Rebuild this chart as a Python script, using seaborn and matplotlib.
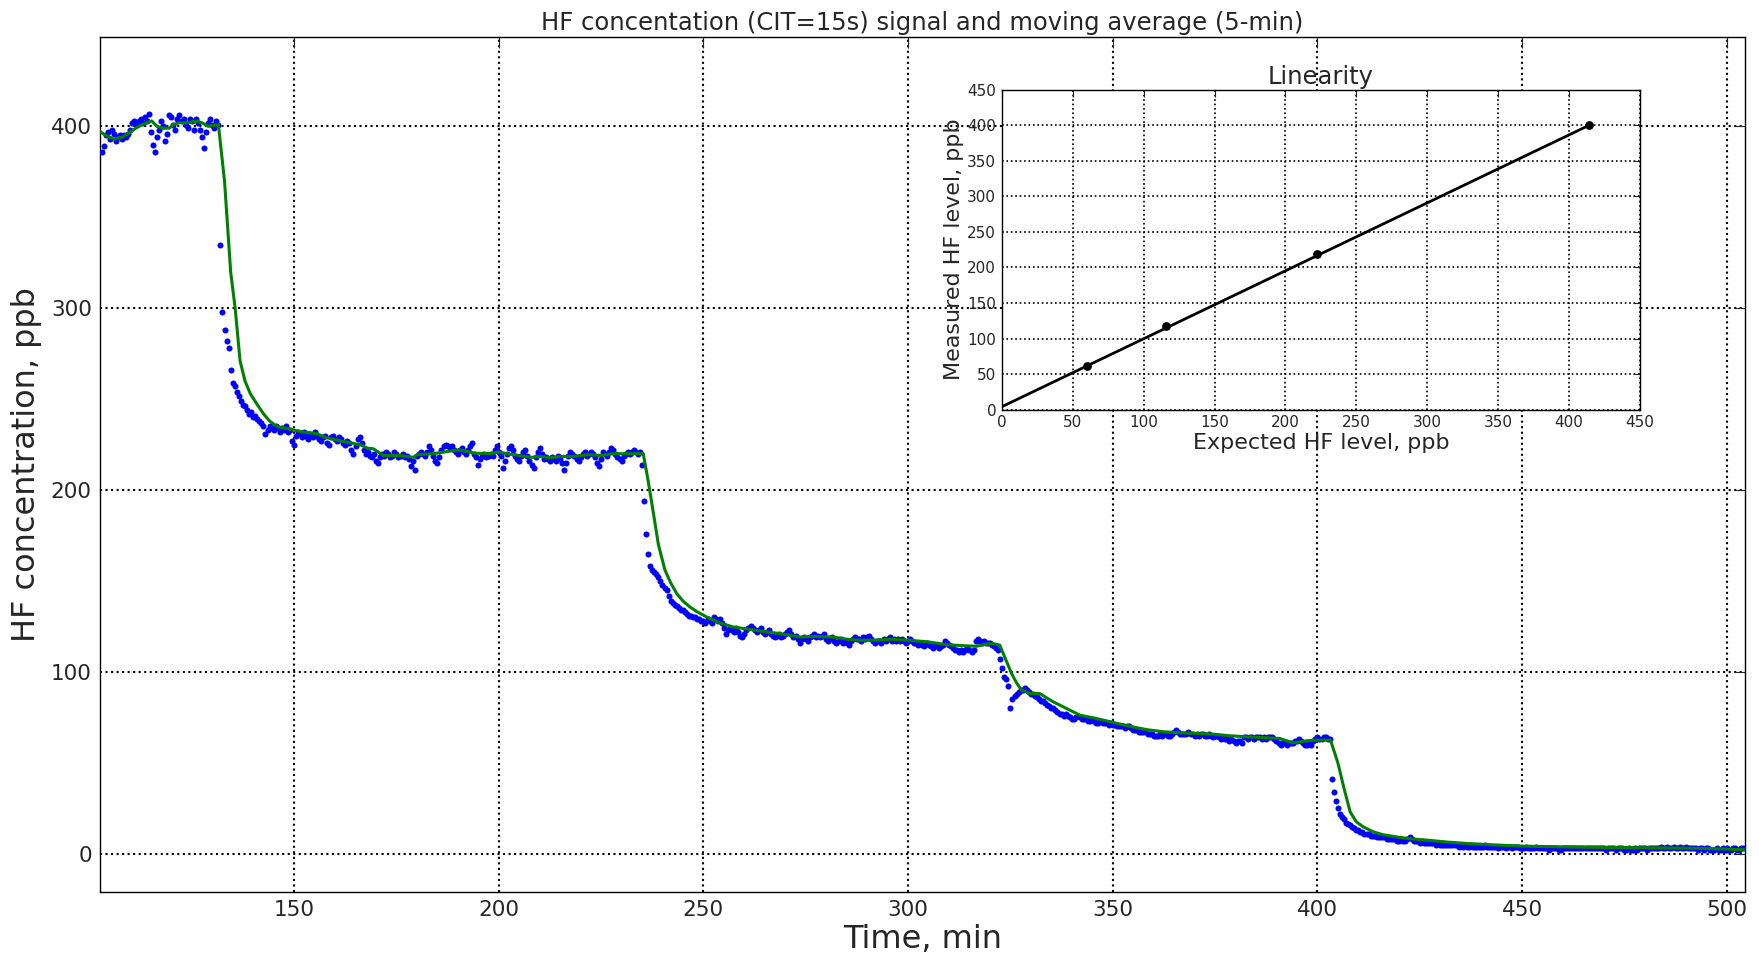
# -*- coding:utf-8 -*-
# HF concentration: raw signal (dots) + 5-min moving average, with linearity inset
import numpy as np
import seaborn as sns
import matplotlib
matplotlib.use('Agg')
import matplotlib.pyplot as plt

# raw signal, one value every 0.5 min starting at t = 103 min
t_start = 103.0
t_step = 0.5
hf_signal = [
    386, 389, 395, 397, 393, 398, 396, 392, 394, 395,
    393, 395, 394, 396, 398, 402, 403, 401, 403, 404,
    402, 405, 403, 407, 397, 390, 386, 394, 398, 403,
    400, 392, 396, 406, 405, 401, 398, 404, 406, 403,
    404, 401, 399, 404, 403, 398, 404, 402, 398, 394,
    388, 397, 402, 404, 401, 399, 403, 401, 335, 298,
    288, 282, 278, 266, 259, 257, 254, 252, 249, 247,
    246, 244, 242, 243, 240, 241, 239, 238, 237, 235,
    231, 233, 235, 234, 233, 235, 234, 232, 234, 233,
    235, 232, 233, 227, 225, 230, 232, 231, 229, 232,
    230, 228, 231, 229, 232, 230, 228, 227, 229, 230,
    226, 225, 229, 230, 228, 227, 229, 228, 226, 225,
    227, 226, 222, 220, 224, 228, 229, 226, 222, 220,
    221, 219, 218, 220, 216, 215, 218, 220, 219, 221,
    220, 218, 219, 221, 220, 218, 219, 220, 218, 219,
    217, 213, 216, 211, 219, 220, 221, 220, 219, 221,
    224, 222, 219, 216, 215, 218, 222, 224, 225, 224,
    223, 224, 222, 221, 220, 222, 223, 221, 220, 222,
    224, 226, 220, 218, 214, 217, 219, 220, 218, 219,
    220, 219, 222, 224, 221, 219, 212, 216, 220, 223,
    224, 222, 219, 217, 216, 219, 221, 222, 219, 216,
    214, 212, 218, 221, 223, 220, 217, 218, 217, 216,
    218, 217, 216, 219, 217, 215, 211, 215, 219, 221,
    220, 219, 217, 216, 218, 220, 221, 219, 220, 221,
    220, 218, 215, 213, 217, 221, 220, 219, 221, 223,
    222, 220, 218, 217, 216, 219, 220, 221, 220, 221,
    222, 221, 220, 221, 214, 194, 176, 165, 158, 156,
    155, 154, 152, 150, 148, 146, 145, 142, 139, 138,
    137, 136, 135, 134, 134, 133, 132, 131, 131, 130,
    130, 129, 129, 128, 128, 127, 129, 128, 127, 130,
    129, 128, 129, 127, 124, 121, 123, 124, 123, 122,
    124, 122, 120, 119, 121, 123, 124, 125, 124, 123,
    122, 123, 124, 122, 121, 122, 123, 121, 120, 119,
    120, 121, 119, 120, 121, 122, 123, 121, 119, 120,
    118, 116, 118, 119, 118, 117, 119, 120, 121, 119,
    120, 119, 120, 121, 118, 117, 118, 119, 117, 116,
    117, 118, 116, 117, 116, 115, 117, 118, 119, 118,
    118, 117, 119, 118, 119, 120, 118, 117, 116, 117,
    117, 116, 118, 117, 118, 119, 117, 118, 117, 118,
    117, 118, 117, 116, 117, 118, 117, 116, 116, 115,
    116, 115, 114, 116, 115, 114, 113, 114, 115, 113,
    114, 115, 117, 116, 115, 114, 113, 112, 112, 111,
    112, 111, 112, 113, 112, 111, 112, 117, 118, 117,
    116, 117, 116, 116, 116, 115, 114, 113, 112, 107,
    102, 97, 96, 92, 80, 85, 87, 88, 89, 90,
    90, 91, 90, 89, 88, 88, 87, 86, 85, 84,
    84, 83, 82, 81, 80, 80, 79, 78, 77, 77,
    76, 77, 76, 75, 74, 74, 75, 76, 75, 74,
    74, 74, 73, 73, 74, 73, 72, 72, 73, 72,
    72, 72, 71, 72, 71, 71, 70, 70, 70, 70,
    69, 70, 70, 69, 68, 68, 68, 67, 67, 67,
    67, 66, 66, 66, 65, 65, 65, 66, 65, 66,
    66, 65, 65, 66, 67, 68, 67, 66, 66, 66,
    66, 67, 66, 66, 65, 66, 65, 66, 66, 65,
    65, 66, 65, 64, 65, 65, 64, 63, 64, 63,
    63, 62, 63, 62, 61, 62, 62, 61, 64, 64,
    63, 64, 64, 63, 64, 64, 64, 63, 64, 63,
    64, 64, 64, 63, 62, 61, 60, 61, 61, 60,
    61, 61, 61, 62, 62, 63, 62, 61, 60, 60,
    61, 60, 62, 63, 64, 63, 63, 64, 64, 63,
    63, 41, 34, 29, 25, 22, 20, 19, 17, 16.5,
    16, 15, 14, 13, 13, 12, 12, 11, 11, 11,
    10, 10, 10, 9, 9, 9, 9, 9, 8, 8,
    8, 8, 8, 7, 7, 8, 7, 7, 8, 9,
    8, 7, 7, 7, 6, 7, 6, 6, 6, 6,
    6, 6, 5, 6, 5, 5, 5, 5, 5, 5,
    5, 5, 5, 4, 5, 4, 5, 4, 4, 5,
    4, 4, 4, 4, 4, 4, 5, 4, 4, 4,
    4, 4, 3, 4, 4, 4, 3, 4, 4, 3,
    4, 4, 4, 3, 3, 3, 4, 3, 3, 3,
    3, 4, 3, 3, 3, 3, 3, 2, 3, 3,
    3, 3, 2, 2, 3, 3, 3, 3, 3, 3,
    3, 3, 3, 3, 3, 3, 3, 3, 3, 3,
    3, 3, 3, 3, 3, 2, 3, 3, 3, 3,
    2, 3, 3, 3, 2, 2, 3, 2, 2, 3,
    2, 3, 3, 3, 3, 2, 3, 3, 3, 3,
    3, 3, 3.5, 3, 3, 3.5, 3, 3, 3.5, 3,
    3, 3.5, 3, 3, 3.5, 3, 3, 3, 3, 3,
    2, 3, 3, 2, 3, 3, 2, 2, 2, 3,
    2, 2, 3, 2, 3, 2, 2, 3, 3, 2,
    2, 3, 3,
]
time_min = t_start + t_step * np.arange(len(hf_signal))

# 5-min moving average (green)
ma_time = [102.7, 104, 106, 108, 110, 112, 114, 115.2, 116.5, 118, 119.5, 120.5,
           122, 124, 126, 127.5, 129, 131.5,
           133, 134.5, 135.6, 136.8, 138, 139.3, 141, 142.5, 144, 145.8, 148, 149.9,
           152, 155.6, 157.5, 159.6, 161.5, 163.7, 166, 168, 169.4, 171.8, 176, 179.2,
           180, 184, 187, 190.2, 194, 198, 200, 202, 205, 208, 210, 212.5, 215, 218,
           222, 225, 228, 231, 235.3,
           236.5, 237.8, 239, 240.6, 242, 243.5, 245, 246.7, 248.5, 250.8, 254, 257.3,
           261, 265.4, 269, 273.6, 277, 281.7, 285, 288.2, 292, 296, 300, 305, 309.4,
           313, 316.7, 319, 320.8, 322.4,
           324, 325.3, 326.5, 327.7, 329.8, 332.2, 334, 335.5, 338.7, 342, 346, 350.1,
           354, 358.2, 362, 366.4, 370, 374.5, 378, 382.7, 386, 390.8, 394, 397, 399,
           403.2,
           405, 406.5, 408, 409.5, 411.2, 413.6, 416, 420.1, 424, 428.2, 432, 436.4,
           443, 450.2, 460, 469, 481, 493.4, 500, 504.4]
ma_value = [397, 395, 393, 394, 397, 400, 402, 403, 400, 399, 399, 401,
            402, 402, 403, 402, 400, 401,
            370, 320, 300, 271, 260, 253, 247, 242, 238, 235, 234, 233,
            232, 231, 229, 228, 227, 226, 225, 223, 222.7, 219, 219, 218,
            219.5, 220, 221, 222.2, 220.3, 220, 221, 220, 219, 218, 218.5, 217.8, 218.5, 218.5,
            219.5, 219, 220, 220, 220,
            205, 187, 170, 156, 149, 143, 139, 135.7, 133, 130.2, 127, 124.7,
            123.5, 122, 121, 119.2, 119.5, 119.2, 118, 117.4, 117.5, 118, 117.5, 116.5, 115,
            114.5, 114.1, 115.3, 115.6, 114.7,
            106, 99, 94, 90, 88.1, 88.1, 85.5, 83.5, 79.9, 76.2, 74.4, 72.2,
            70.2, 68.3, 67.2, 66.5, 66.2, 65.8, 65, 64.3, 64, 63.4, 61, 62, 62.5,
            62.5,
            50, 36, 23, 17.6, 14.8, 12.1, 10.5, 9, 8, 7.2, 6.4, 5.7,
            4.9, 4.2, 3.8, 3.5, 3.3, 3, 2.6, 2.2]

# linearity inset
expected_ppb = [60, 116, 222, 414]
measured_ppb = [62, 117, 219, 400]
fit_x = [0, 414]
fit_y = [4, 400]

sns.set_style('white')
plt.rcParams['font.family'] = ['DejaVu Sans']

fig = plt.figure(figsize=(17.59, 9.55), dpi=100)
ax = fig.add_axes([0.0569, 0.066, 0.935, 0.895])

sns.scatterplot(x=time_min, y=hf_signal, ax=ax, color='#0000ff', s=19,
                linewidth=0, zorder=3)
sns.lineplot(x=ma_time, y=ma_value, ax=ax, color='#008000', lw=2.2,
             estimator=None, sort=False, zorder=4)

ax.set_xlim(102.6, 504.4)
ax.set_ylim(-21, 449)
ax.set_xticks(range(150, 501, 50))
ax.set_yticks(range(0, 401, 100))
ax.grid(True, color='k', linestyle=':', linewidth=1.5)
ax.tick_params(direction='in', top=True, right=True, labelsize=15.5, length=8, pad=6)
for sp in ax.spines.values():
    sp.set_color('k')
    sp.set_linewidth(1.0)
ax.set_xlabel('Time, min', fontsize=23, labelpad=3)
ax.set_ylabel('HF concentration, ppb', fontsize=23, labelpad=6)
ax.set_title('HF concentation (CIT=15s) signal and moving average (5-min)', fontsize=17.5, pad=5)

# inset
ax2 = fig.add_axes([0.5695, 0.5711, 0.3629, 0.3349])
ax2.set_facecolor('white')
sns.lineplot(x=fit_x, y=fit_y, ax=ax2, color='k', lw=2, estimator=None)
sns.scatterplot(x=expected_ppb, y=measured_ppb, ax=ax2, color='k', s=40,
                linewidth=0, zorder=3)
ax2.set_xlim(0, 450)
ax2.set_ylim(0, 450)
ax2.set_xticks(range(0, 451, 50))
ax2.set_yticks(range(0, 451, 50))
ax2.grid(True, color='k', linestyle=':', linewidth=1.2)
ax2.tick_params(direction='in', top=True, right=True, labelsize=11, length=5, pad=4)
for sp in ax2.spines.values():
    sp.set_color('k')
    sp.set_linewidth(1.0)
ax2.set_title('Linearity', fontsize=17.5, pad=4)
ax2.set_xlabel('Expected HF level, ppb', fontsize=16, labelpad=2)
ax2.set_ylabel('Measured HF level, ppb', fontsize=16, labelpad=2)

fig.savefig('out.png', dpi=100)
